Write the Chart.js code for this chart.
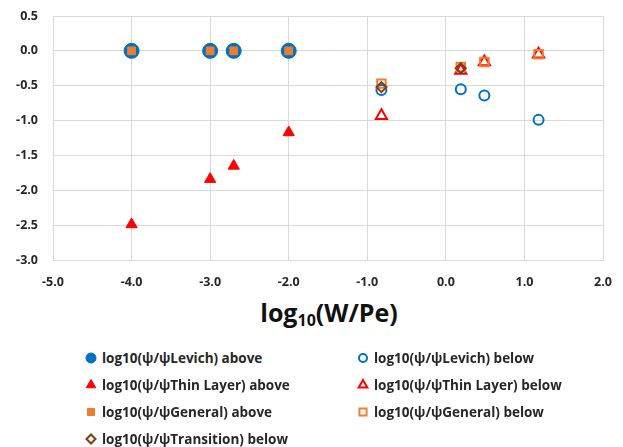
<!DOCTYPE html>
<html>
<head>
<meta charset="utf-8">
<script src="https://cdn.jsdelivr.net/npm/chart.js@4.4.1/dist/chart.umd.min.js"></script>
<style>
  body { margin: 0; background: #fff; font-family: "Open Sans", "DejaVu Sans", sans-serif; }
  #wrap { position: relative; width: 623px; height: 447px; }
  #chart { position: absolute; left: 0; top: 0; }
  #xtitle { position: absolute; left: 0; width: 658px; top: 295px; text-align: center;
            font-size: 25px; font-weight: 700; color: #111; }
  #xtitle sub { font-size: 16px; vertical-align: -4px; }
  #legend { position: absolute; left: 84px; top: 349px; display: grid;
            grid-template-columns: 272px 260px; row-gap: 9px; }
  .item { display: flex; align-items: center; font-size: 13.5px; font-weight: 700;
          color: #262626; height: 18px; white-space: nowrap; }
  .item canvas { margin-right: 4px; }
</style>
</head>
<body>
<div id="wrap">
  <canvas id="chart" width="623" height="290"></canvas>
  <div id="xtitle">log<sub>10</sub>(W/Pe)</div>
  <div id="legend"></div>
</div>
<script>
// x positions, log10(W/Pe)
const xAbove = [-4.0, -3.0, -2.7, -2.0];
const xBelow = [-0.82, 0.19, 0.49, 1.18];
const xTransition = [-0.82, 0.19];

// y values, log10(psi/psi_ref)
const levichAbove = [0, 0, 0, 0];
const thinAbove = [-2.49, -1.84, -1.65, -1.17];
const generalAbove = [0, 0, 0, 0];
const levichBelow = [-0.56, -0.55, -0.64, -0.99];
const thinBelow = [-0.93, -0.28, -0.16, -0.05];
const generalBelow = [-0.47, -0.23, -0.16, -0.05];
const transitionBelow = [-0.52, -0.25];

const xTicks = [-5, -4, -3, -2, -1, 0, 1, 2];
const yTicks = [0.5, 0, -0.5, -1, -1.5, -2, -2.5, -3];

const BLUE = '#0070C0', RED = '#FF0000', ORANGE = '#ED7D31', BROWN = '#843C0C';

function pts(xs, ys) {
  return xs.map((x, i) => ({ x: x, y: ys[i] }));
}

const series = [
  { label: 'log10(ψ/ψLevich) above', data: pts(xAbove, levichAbove), pointStyle: 'circle', radius: 7.5,
    bg: BLUE, border: BLUE, bw: 1, lr: 5 },
  { label: 'log10(ψ/ψThin Layer) above', data: pts(xAbove, thinAbove), pointStyle: 'triangle', radius: 6.5,
    bg: RED, border: RED, bw: 1, lr: 5.5 },
  { label: 'log10(ψ/ψGeneral) above', data: pts(xAbove, generalAbove), pointStyle: 'rect', radius: 5.5,
    bg: ORANGE, border: ORANGE, bw: 1, lr: 5 },
  { label: 'log10(ψ/ψLevich) below', data: pts(xBelow, levichBelow), pointStyle: 'circle', radius: 5,
    bg: 'rgba(0,0,0,0)', border: BLUE, bw: 2, lr: 4 },
  { label: 'log10(ψ/ψThin Layer) below', data: pts(xBelow, thinBelow), pointStyle: 'triangle', radius: 6.5,
    bg: 'rgba(0,0,0,0)', border: RED, bw: 2, lr: 5 },
  { label: 'log10(ψ/ψGeneral) below', data: pts(xBelow, generalBelow), pointStyle: 'rect', radius: 6,
    bg: 'rgba(0,0,0,0)', border: ORANGE, bw: 2, lr: 5 },
  { label: 'log10(ψ/ψTransition) below', data: pts(xTransition, transitionBelow), pointStyle: 'rectRot', radius: 5,
    bg: 'rgba(0,0,0,0)', border: BROWN, bw: 2, lr: 4.5 }
];

const datasets = series.map((s, i) => ({
  label: s.label,
  data: s.data,
  pointStyle: s.pointStyle,
  pointRadius: s.radius,
  pointHoverRadius: s.radius,
  pointBackgroundColor: s.bg,
  pointBorderColor: s.border,
  pointBorderWidth: s.bw,
  showLine: false,
  order: series.length - i   // later series drawn on top
}));

const tickFont = { family: '"Open Sans", "DejaVu Sans", sans-serif', size: 12.5, weight: 'bold' };
// invisible tick marks push the labels away from the plot
const gridOpts = { color: '#D9D9D9', drawTicks: true, tickLength: 12, tickColor: 'rgba(0,0,0,0)' };

new Chart(document.getElementById('chart'), {
  type: 'scatter',
  data: { datasets },
  options: {
    responsive: false,
    animation: false,
    layout: { autoPadding: false, padding: { top: 16, right: 20, left: 0, bottom: 0 } },
    plugins: { legend: { display: false }, tooltip: { enabled: false } },
    scales: {
      x: {
        type: 'linear', min: -5, max: 2,
        afterBuildTicks: axis => { axis.ticks = xTicks.map(v => ({ value: v })); },
        afterFit: axis => { axis.height = 30; },
        ticks: { padding: 3, color: '#262626', font: tickFont, callback: v => v.toFixed(1) },
        grid: gridOpts,
        border: { color: '#D9D9D9' }
      },
      y: {
        type: 'linear', min: -3, max: 0.5,
        afterBuildTicks: axis => { axis.ticks = yTicks.map(v => ({ value: v })); },
        afterFit: axis => { axis.width = 53; },
        ticks: { padding: 3, color: '#262626', font: tickFont, callback: v => v.toFixed(1) },
        grid: gridOpts,
        border: { color: '#D9D9D9' }
      }
    }
  }
});

// two-column legend below the chart
const legend = document.getElementById('legend');
const orderInGrid = [0, 3, 1, 4, 2, 5, 6];
orderInGrid.forEach(i => {
  const s = series[i];
  const item = document.createElement('div');
  item.className = 'item';
  const c = document.createElement('canvas');
  c.width = 14; c.height = 14;
  const ctx = c.getContext('2d');
  ctx.fillStyle = s.bg;
  ctx.strokeStyle = s.border;
  ctx.lineWidth = s.bw;
  Chart.helpers.drawPoint(ctx, { pointStyle: s.pointStyle, radius: s.lr, rotation: 0, borderWidth: s.bw }, 7, 7);
  item.appendChild(c);
  const t = document.createElement('span');
  t.textContent = s.label;
  item.appendChild(t);
  legend.appendChild(item);
});
</script>
</body>
</html>
